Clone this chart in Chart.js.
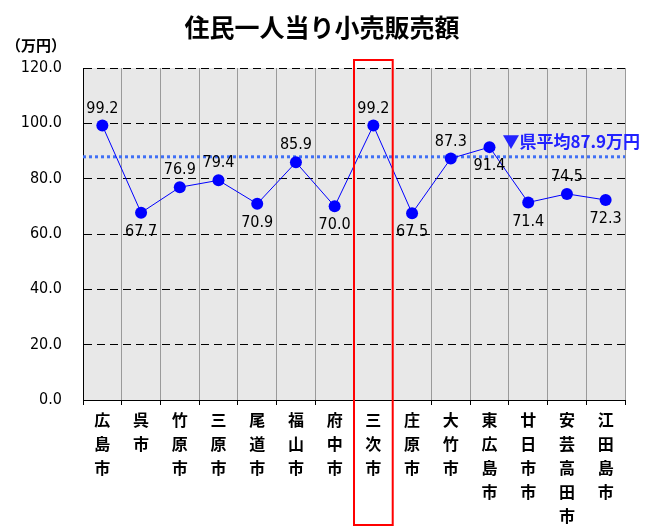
<!DOCTYPE html>
<html>
<head>
<meta charset="utf-8">
<script src="https://cdn.jsdelivr.net/npm/chart.js@4"></script>
<style>
  body { margin: 0; background: #fff; }
  #wrap { width: 651px; height: 529px; }
</style>
</head>
<body>
<div id="wrap"><canvas id="chart"></canvas></div>
<script>
// 市町名（縦書き用に1文字ずつ）
const cities = [
    ['広', '島', '市'], ['呉', '市'], ['竹', '原', '市'], ['三', '原', '市'],
    ['尾', '道', '市'], ['福', '山', '市'], ['府', '中', '市'], ['三', '次', '市'],
    ['庄', '原', '市'], ['大', '竹', '市'], ['東', '広', '島', '市'], ['廿', '日', '市', '市'],
    ['安', '芸', '高', '田', '市'], ['江', '田', '島', '市']
];
const salesPerPerson = [99.2, 67.7, 76.9, 79.4, 70.9, 85.9, 70.0, 99.2, 67.5, 87.3, 91.4, 71.4, 74.5, 72.3];
const labelSide = ['up', 'down', 'up', 'up', 'down', 'up', 'down', 'up', 'down', 'up', 'down', 'down', 'up', 'down'];
const prefAverage = 87.9;
const highlightIndex = 7; // 三次市
const yMin = 0, yMax = 120, yStep = 20;
const chartTitle = '住民一人当り小売販売額';
const unitLabel = '（万円）';

const numFont = "'Liberation Sans Narrow', 'DejaVu Sans Condensed', sans-serif";
const jpFont = "'Noto Sans CJK JP', sans-serif";

const extras = {
    id: 'extras',
    beforeDraw(chart) {
        const { ctx, chartArea: a } = chart;
        ctx.save();
        ctx.fillStyle = '#e8e8e8';
        ctx.fillRect(a.left, a.top, a.right - a.left, a.bottom - a.top);
        ctx.restore();
    },
    beforeDatasetsDraw(chart) {
        const { ctx, chartArea: a, scales } = chart;
        const y = scales.y.getPixelForValue(prefAverage);
        ctx.save();
        ctx.strokeStyle = '#3f6ff5';
        ctx.lineWidth = 3;
        ctx.setLineDash([3, 3]);
        ctx.beginPath();
        ctx.moveTo(a.left, y);
        ctx.lineTo(a.right, y);
        ctx.stroke();
        ctx.restore();
    },
    afterDatasetsDraw(chart) {
        const { ctx, scales } = chart;
        const meta = chart.getDatasetMeta(0);
        ctx.save();
        ctx.fillStyle = '#000';
        ctx.font = '16px ' + numFont;
        ctx.textAlign = 'center';
        ctx.textBaseline = 'middle';
        meta.data.forEach((pt, i) => {
            const dy = labelSide[i] === 'up' ? -17 : 19;
            ctx.fillText(salesPerPerson[i].toFixed(1), pt.x, pt.y + dy);
        });
        // 県平均ラベル
        ctx.fillStyle = '#2222ff';
        ctx.font = 'bold 17px ' + jpFont;
        ctx.textAlign = 'left';
        const ax = scales.x.getPixelForValue(10) + 13;
        const ay = scales.y.getPixelForValue(prefAverage) - 15;
        ctx.fillText('▼県平均' + prefAverage.toFixed(1) + '万円', ax, ay);
        ctx.restore();
    },
    afterDraw(chart) {
        const { ctx, chartArea: a, scales } = chart;
        ctx.save();
        ctx.fillStyle = '#000';
        ctx.textBaseline = 'middle';
        ctx.textAlign = 'center';
        ctx.font = 'bold 25px ' + jpFont;
        ctx.fillText(chartTitle, 322, 27);
        ctx.textAlign = 'left';
        ctx.font = 'bold 15px ' + jpFont;
        ctx.fillText(unitLabel, 6, 45);
        // 三次市を囲む枠
        const x0 = scales.x.getPixelForValue(highlightIndex - 0.5);
        const x1 = scales.x.getPixelForValue(highlightIndex + 0.5);
        ctx.strokeStyle = '#ff0000';
        ctx.lineWidth = 2;
        ctx.strokeRect(x0, a.top - 8, x1 - x0, chart.height - 4 - (a.top - 8));
        ctx.restore();
    }
};

new Chart(document.getElementById('chart'), {
    type: 'line',
    data: {
        labels: cities,
        datasets: [{
            data: salesPerPerson,
            borderColor: '#0000ff',
            backgroundColor: '#0000ff',
            borderWidth: 1,
            pointRadius: 6,
            pointBackgroundColor: '#0000ff',
            pointBorderWidth: 0,
            tension: 0
        }]
    },
    options: {
        responsive: true,
        maintainAspectRatio: false,
        animation: false,
        layout: { padding: { left: 0, right: 26, top: 68, bottom: 0 } },
        plugins: {
            legend: { display: false },
            tooltip: { enabled: false },
            title: { display: false }
        },
        scales: {
            x: {
                offset: true,
                afterFit(scale) { scale.height = 129; },
                grid: {
                    offset: true,
                    color: '#9a9a9a',
                    tickColor: '#000',
                    tickLength: 5,
                    lineWidth: 1
                },
                border: { display: true, color: '#000', width: 1 },
                ticks: {
                    color: '#000',
                    padding: 3,
                    maxRotation: 0,
                    autoSkip: false,
                    font: { family: jpFont, size: 16, weight: 'bold', lineHeight: 1.5 }
                }
            },
            y: {
                min: yMin,
                max: yMax,
                afterFit(scale) { scale.width = 83; },
                grid: {
                    color: (c) => c.tick && c.tick.value === yMin ? 'rgba(0,0,0,0)' : '#000',
                    drawTicks: false
                },
                border: { display: true, color: '#000', width: 1, dash: [8, 5] },
                ticks: {
                    stepSize: yStep,
                    color: '#000',
                    padding: 21,
                    font: { family: numFont, size: 16 },
                    callback: (v) => v.toFixed(1)
                }
            }
        }
    },
    plugins: [extras]
});
</script>
</body>
</html>
